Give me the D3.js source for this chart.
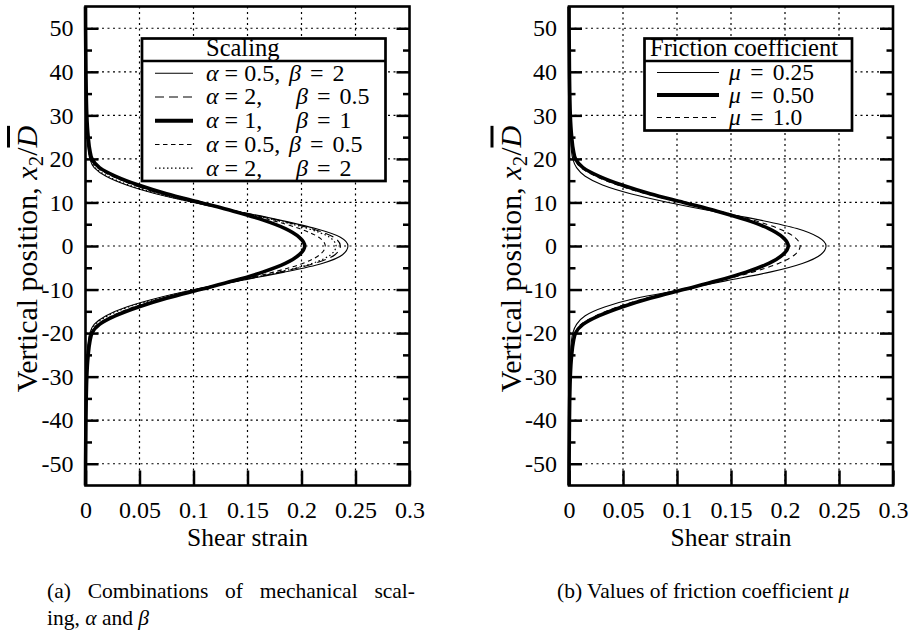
<!DOCTYPE html>
<html>
<head>
<meta charset="utf-8">
<script src="https://cdn.jsdelivr.net/npm/d3@7"></script>
<style>
  body { margin: 0; background: #fff; }
</style>
</head>
<body>
<svg id="chart" width="914" height="635"></svg>
<script>

const yPos = [-55, -40, -30, -25, -22, -20, -18, -16, -14, -12, -10, -8, -6, -4, -2, 0,
              2, 4, 6, 8, 10, 12, 14, 16, 18, 20, 22, 25, 30, 40, 55];

// (a) mechanical scaling
const strainA05B2  = [0, 0.0003, 0.0008, 0.0015, 0.0025, 0.004, 0.008, 0.019, 0.038, 0.066, 0.101, 0.142, 0.184, 0.219, 0.238, 0.243,
                      0.236, 0.213, 0.179, 0.140, 0.100, 0.065, 0.038, 0.019, 0.008, 0.004, 0.0025, 0.0015, 0.0008, 0.0003, 0];
const strainA2B05  = [0, 0.0004, 0.0012, 0.0028, 0.004, 0.006, 0.012, 0.026, 0.046, 0.072, 0.104, 0.141, 0.180, 0.212, 0.231, 0.236,
                      0.230, 0.209, 0.177, 0.140, 0.103, 0.070, 0.045, 0.026, 0.012, 0.006, 0.004, 0.0028, 0.0012, 0.0004, 0];
const strainA1B1   = [0, 0.0004, 0.0012, 0.0025, 0.004, 0.006, 0.013, 0.028, 0.049, 0.075, 0.106, 0.137, 0.164, 0.185, 0.198, 0.203,
                      0.198, 0.185, 0.164, 0.137, 0.106, 0.075, 0.049, 0.028, 0.013, 0.006, 0.004, 0.0025, 0.0012, 0.0004, 0];
const strainA05B05 = [0, 0.0003, 0.001, 0.002, 0.0032, 0.005, 0.011, 0.025, 0.045, 0.072, 0.105, 0.140, 0.174, 0.201, 0.217, 0.222,
                      0.216, 0.198, 0.171, 0.138, 0.104, 0.071, 0.045, 0.025, 0.011, 0.005, 0.0032, 0.002, 0.001, 0.0003, 0];
const strainA2B2   = [0, 0.0003, 0.0009, 0.0018, 0.003, 0.0045, 0.009, 0.021, 0.040, 0.068, 0.102, 0.141, 0.179, 0.210, 0.227, 0.232,
                      0.226, 0.206, 0.175, 0.139, 0.101, 0.067, 0.040, 0.021, 0.009, 0.0045, 0.003, 0.0018, 0.0009, 0.0003, 0];

// (b) friction coefficient
const strainMu025 = [0, 0.0003, 0.0008, 0.0015, 0.0022, 0.0035, 0.007, 0.015, 0.033, 0.062, 0.105, 0.145, 0.186, 0.216, 0.233, 0.238,
                     0.231, 0.211, 0.176, 0.133, 0.092, 0.057, 0.031, 0.015, 0.007, 0.0035, 0.0022, 0.0015, 0.0008, 0.0003, 0];
const strainMu050 = [0, 0.0004, 0.0012, 0.0025, 0.004, 0.006, 0.013, 0.028, 0.049, 0.075, 0.106, 0.137, 0.164, 0.185, 0.198, 0.203,
                     0.198, 0.185, 0.164, 0.137, 0.106, 0.075, 0.049, 0.028, 0.013, 0.006, 0.004, 0.0025, 0.0012, 0.0004, 0];
const strainMu100 = [0, 0.0004, 0.0011, 0.0022, 0.0035, 0.0055, 0.011, 0.025, 0.045, 0.071, 0.104, 0.139, 0.170, 0.194, 0.209, 0.214,
                     0.209, 0.194, 0.170, 0.139, 0.104, 0.071, 0.045, 0.025, 0.011, 0.0055, 0.0035, 0.0022, 0.0011, 0.0004, 0];

const xTickValues = [0, 0.05, 0.1, 0.15, 0.2, 0.25, 0.3];
const xTickLabels = ["0", "0.05", "0.1", "0.15", "0.2", "0.25", "0.3"];
const yTickValues = [-50, -40, -30, -20, -10, 0, 10, 20, 30, 40, 50];
const yMinorTicks = [-45, -35, -25, -15, -5, 5, 15, 25, 35, 45];

const alphaLabels = ["0.5", "2", "1", "0.5", "2"];
const betaLabels  = ["2", "0.5", "1", "0.5", "2"];
const muLabels    = ["0.25", "0.50", "1.0"];

const FONT = "'Liberation Serif', 'Times New Roman', Times, serif";

// line styles, in legend order
const thin = 1.1, thick = 3.6;
const stylesA = [
  {w: thin, dash: null},
  {w: thin, dash: "9,5"},
  {w: thick, dash: null},
  {w: thin, dash: "4.5,3.5"},
  {w: 1.2, dash: "1.5,2.5"}
];
const stylesB = [
  {w: thin, dash: null},
  {w: thick, dash: null},
  {w: thin, dash: "5,4"}
];

const svg = d3.select("#chart");

function drawPanel(x0, series, styles) {
  let g = svg.append("g");

  let x = d3.scaleLinear().domain([0, 0.3]).range([x0, x0 + 324]);
  let y = d3.scaleLinear().domain([-55, 55]).range([485.5, 6.5]);

  // dotted grid
  g.selectAll(".gridy").data(yTickValues).join("line")
    .attr("x1", x(0)).attr("x2", x(0.3))
    .attr("y1", d => y(d)).attr("y2", d => y(d))
    .attr("stroke", "#000").attr("stroke-width", 1.2).attr("stroke-dasharray", "2,3.5");
  g.selectAll(".gridx").data(xTickValues.slice(1, -1)).join("line")
    .attr("x1", d => x(d)).attr("x2", d => x(d))
    .attr("y1", y(55)).attr("y2", y(-55))
    .attr("stroke", "#000").attr("stroke-width", 1.2).attr("stroke-dasharray", "2,3.5");

  // curves
  let line = d3.line()
    .x(d => x(d[1]))
    .y(d => y(d[0]))
    .curve(d3.curveMonotoneY);

  series.forEach((vals, i) => {
    g.append("path")
      .datum(yPos.map((p, k) => [p, vals[k]]))
      .attr("d", line)
      .attr("fill", "none")
      .attr("stroke", "#000")
      .attr("stroke-width", styles[i].w)
      .attr("stroke-dasharray", styles[i].dash);
  });

  // axes, ticks pointing inward
  let yAxis = d3.axisLeft(y).tickValues(yTickValues).tickSize(-13).tickPadding(12).tickFormat(d => d);
  g.append("g").attr("transform", `translate(${x(0)},0)`).call(yAxis)
    .attr("font-size", 24)
    .call(a => a.select(".domain").remove())
    .selectAll("line").attr("stroke-width", 2.5);

  g.append("g").attr("transform", `translate(${x(0)},0)`)
    .call(d3.axisLeft(y).tickValues(yMinorTicks).tickSize(-6.5).tickFormat(""))
    .call(a => a.select(".domain").remove())
    .selectAll("line").attr("stroke-width", 2.5);

  g.append("g").attr("transform", `translate(${x(0.3)},0)`)
    .call(d3.axisRight(y).tickValues(yTickValues).tickSize(-13).tickFormat(""))
    .call(a => a.select(".domain").remove())
    .selectAll("line").attr("stroke-width", 2.5);

  g.append("g").attr("transform", `translate(${x(0.3)},0)`)
    .call(d3.axisRight(y).tickValues(yMinorTicks).tickSize(-6.5).tickFormat(""))
    .call(a => a.select(".domain").remove())
    .selectAll("line").attr("stroke-width", 2.5);

  let xAxis = d3.axisBottom(x).tickValues(xTickValues).tickSize(-15).tickPadding(15)
    .tickFormat((d, i) => xTickLabels[i]);
  g.append("g").attr("transform", `translate(0,${y(-55)})`).call(xAxis)
    .attr("font-size", 24)
    .call(a => a.select(".domain").remove())
    .selectAll("line").attr("stroke-width", 2.5);

  // frame
  g.append("rect")
    .attr("x", x(0)).attr("y", y(55))
    .attr("width", x(0.3) - x(0)).attr("height", y(-55) - y(55))
    .attr("fill", "none").attr("stroke", "#000").attr("stroke-width", 2.6);

  // axis titles
  g.append("text")
    .attr("x", (x(0) + x(0.3)) / 2).attr("y", 546)
    .attr("text-anchor", "middle").attr("font-size", 25.5)
    .text("Shear strain");

  let yl = g.append("text")
    .attr("transform", `translate(${x0 - 48.5},259) rotate(-90)`)
    .attr("text-anchor", "middle").attr("font-size", 30);
  yl.append("tspan").text("Vertical position, ");
  yl.append("tspan").attr("font-style", "italic").text("x");
  yl.append("tspan").attr("font-size", 21).attr("dy", 6).text("2");
  yl.append("tspan").attr("dy", -6).text("/");
  yl.append("tspan").attr("font-style", "italic").style("text-decoration", "overline").text("D");

  return g;
}

function legendBox(g, bx, by, bw, bh, titleY) {
  g.append("rect").attr("x", bx).attr("y", by).attr("width", bw).attr("height", bh)
    .attr("fill", "#fff").attr("stroke", "#000").attr("stroke-width", 2.7);
  g.append("line").attr("x1", bx).attr("x2", bx + bw).attr("y1", titleY).attr("y2", titleY)
    .attr("stroke", "#000").attr("stroke-width", 2.7);
}

// ---- panel (a)
let panelA = drawPanel(85.5, [strainA05B2, strainA2B05, strainA1B1, strainA05B05, strainA2B2], stylesA);

legendBox(panelA, 142, 38.5, 243.5, 142.5, 61);
panelA.append("text").attr("x", 206).attr("y", 56).attr("font-size", 24.5).text("Scaling");

alphaLabels.forEach((a, i) => {
  let base = 80.7 + i * 23.75;
  panelA.append("line")
    .attr("x1", 155).attr("x2", 193).attr("y1", base - 7.5).attr("y2", base - 7.5)
    .attr("stroke", "#000").attr("stroke-width", stylesA[i].w + (stylesA[i].w > 2 ? 0.4 : 0))
    .attr("stroke-dasharray", stylesA[i].dash);
  let t = panelA.append("text").attr("x", 206).attr("y", base).attr("font-size", 24);
  t.append("tspan").attr("font-style", "italic").text("α");
  t.append("tspan").text(" = " + a + ",");
  t.append("tspan").attr("x", a.length > 1 ? 289 : 296).attr("font-style", "italic").text("β");
  t.append("tspan").attr("word-spacing", 3).text(" = " + betaLabels[i]);
});

// ---- panel (b)
let panelB = drawPanel(569, [strainMu025, strainMu050, strainMu100], stylesB);

legendBox(panelB, 644.5, 38.5, 207.5, 92, 61);
panelB.append("text").attr("x", 650).attr("y", 56).attr("font-size", 24.5).text("Friction coefficient");

muLabels.forEach((m, i) => {
  let base = 80 + i * 22.5;
  panelB.append("line")
    .attr("x1", 657).attr("x2", 719).attr("y1", base - 7.5).attr("y2", base - 7.5)
    .attr("stroke", "#000").attr("stroke-width", stylesB[i].w + (stylesB[i].w > 2 ? 0.4 : 0))
    .attr("stroke-dasharray", stylesB[i].dash);
  let t = panelB.append("text").attr("x", 729).attr("y", base).attr("font-size", 23.5)
    .attr("word-spacing", 3.5);
  t.append("tspan").attr("font-style", "italic").text("μ");
  t.append("tspan").text(" = " + m);
});

// ---- captions
let capA1 = svg.append("text").attr("x", 47).attr("y", 598).attr("font-size", 21.5).attr("word-spacing", 11.4);
capA1.text("(a) Combinations of mechanical scal-");
let capA2 = svg.append("text").attr("x", 47).attr("y", 625).attr("font-size", 21.5);
capA2.append("tspan").text("ing, ");
capA2.append("tspan").attr("font-style", "italic").text("α");
capA2.append("tspan").text(" and ");
capA2.append("tspan").attr("font-style", "italic").text("β");

let capB = svg.append("text").attr("x", 557).attr("y", 598).attr("font-size", 21.5);
capB.append("tspan").text("(b) Values of friction coefficient ");
capB.append("tspan").attr("font-style", "italic").text("μ");

// one serif face for every label
svg.selectAll("text").style("font-family", FONT).attr("fill", "#000");

</script>
</body>
</html>
